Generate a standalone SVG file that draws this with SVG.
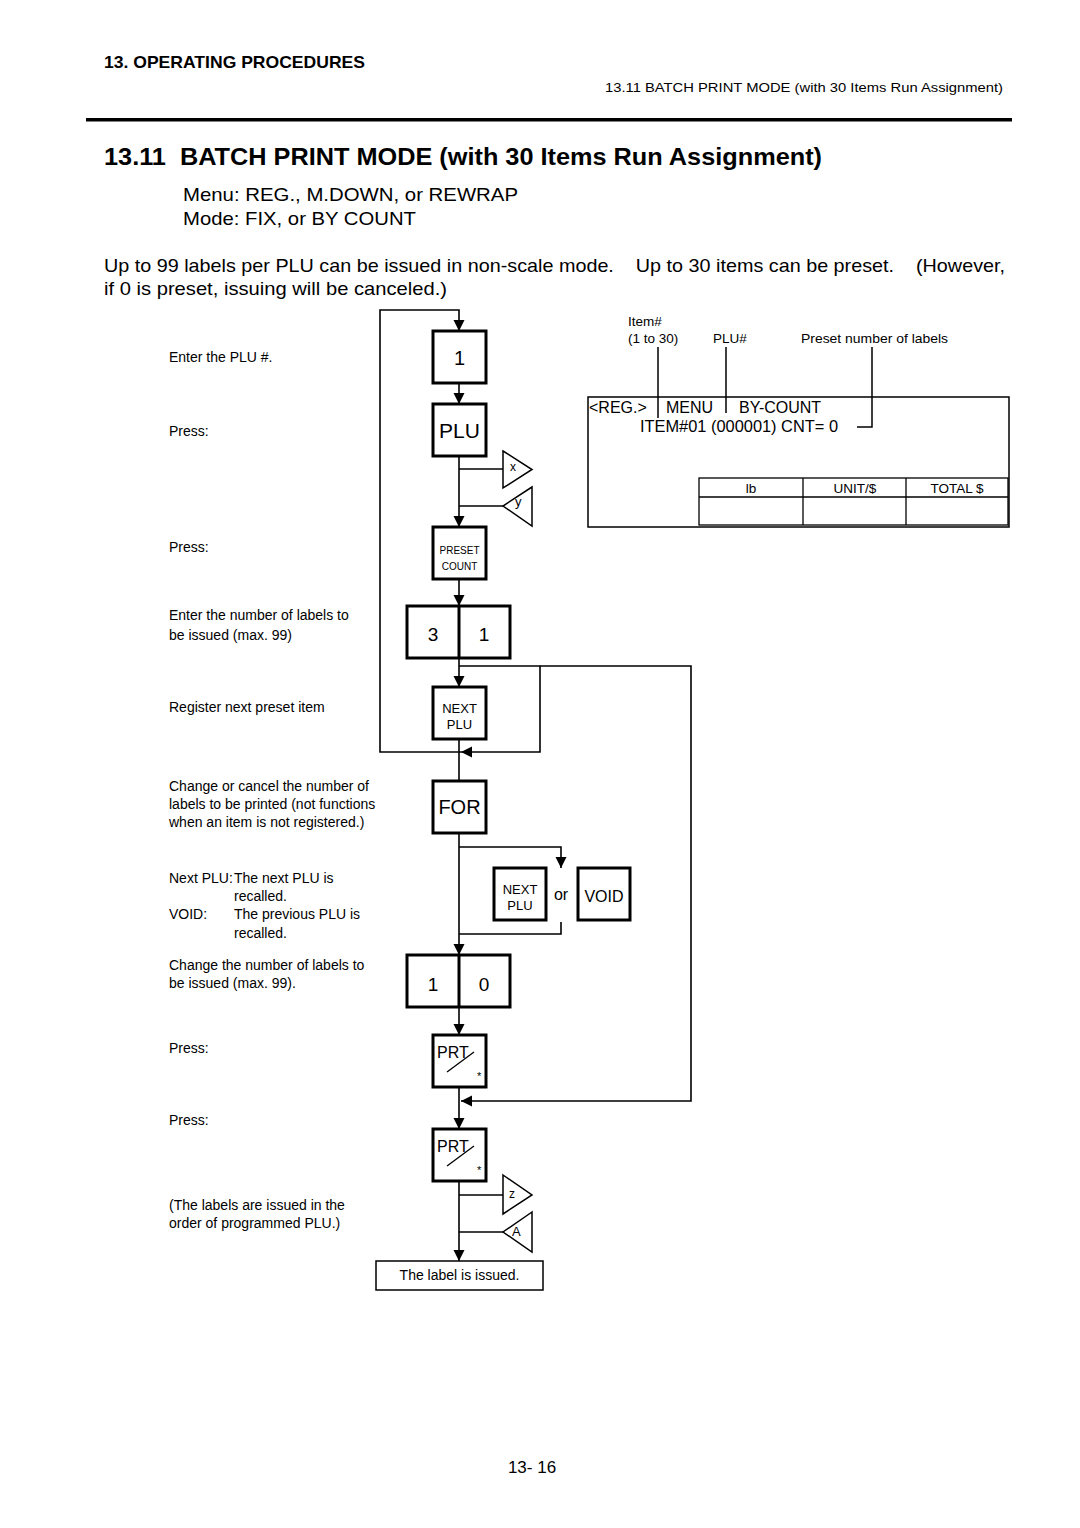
<svg xmlns="http://www.w3.org/2000/svg" width="1080" height="1528" viewBox="0 0 1080 1528">
<style>
text{font-family:"Liberation Sans",Arial,sans-serif;fill:#000}
.key{fill:#fff;stroke:#000;stroke-width:3}
.thin{fill:#fff;stroke:#000;stroke-width:1.5}
.conn{fill:none;stroke:#000;stroke-width:1.6}
.note{font-size:14px}
.kc{text-anchor:middle}
</style>
<defs>
<marker id="ah" markerUnits="userSpaceOnUse" markerWidth="12" markerHeight="12" refX="11" refY="6" orient="auto">
<path d="M0,0.5 L11,6 L0,11.5 z" fill="#000"/>
</marker>
</defs>
<rect width="1080" height="1528" fill="#fff"/>

<g id="header">
<text x="104" y="68" font-size="17" font-weight="bold" textLength="261" lengthAdjust="spacingAndGlyphs">13. OPERATING PROCEDURES</text>
<text x="605" y="92" font-size="13" textLength="398" lengthAdjust="spacingAndGlyphs">13.11 BATCH PRINT MODE (with 30 Items Run Assignment)</text>
<rect x="86" y="118" width="926" height="3.5" fill="#000"/>
<text x="104" y="165" font-size="24" font-weight="bold" textLength="718" lengthAdjust="spacingAndGlyphs" xml:space="preserve">13.11  BATCH PRINT MODE (with 30 Items Run Assignment)</text>
<text x="183" y="201" font-size="19" textLength="335" lengthAdjust="spacingAndGlyphs">Menu: REG., M.DOWN, or REWRAP</text>
<text x="183" y="225" font-size="19" textLength="233" lengthAdjust="spacingAndGlyphs">Mode: FIX, or BY COUNT</text>
<text x="104" y="272" font-size="19" textLength="901" lengthAdjust="spacingAndGlyphs" xml:space="preserve">Up to 99 labels per PLU can be issued in non-scale mode.    Up to 30 items can be preset.    (However,</text>
<text x="104" y="295" font-size="19" textLength="343" lengthAdjust="spacingAndGlyphs">if 0 is preset, issuing will be canceled.)</text>
</g>

<g id="notes" class="note">
<text x="169" y="362">Enter the PLU #.</text>
<text x="169" y="436">Press:</text>
<text x="169" y="552">Press:</text>
<text x="169" y="620">Enter the number of labels to</text>
<text x="169" y="640">be issued (max. 99)</text>
<text x="169" y="712">Register next preset item</text>
<text x="169" y="791">Change or cancel the number of</text>
<text x="169" y="809">labels to be printed (not functions</text>
<text x="169" y="827">when an item is not registered.)</text>
<text x="169" y="883">Next PLU:</text>
<text x="234" y="883">The next PLU is</text>
<text x="234" y="901">recalled.</text>
<text x="169" y="919">VOID:</text>
<text x="234" y="919">The previous PLU is</text>
<text x="234" y="938">recalled.</text>
<text x="169" y="970">Change the number of labels to</text>
<text x="169" y="988">be issued (max. 99).</text>
<text x="169" y="1053">Press:</text>
<text x="169" y="1125">Press:</text>
<text x="169" y="1210">(The labels are issued in the</text>
<text x="169" y="1228">order of programmed PLU.)</text>
</g>

<g id="connectors">
<path class="conn" d="M459,666 H540 V752 H461" marker-end="url(#ah)"/>
<path class="conn" d="M461,752 H380 V310 H459 V331" marker-end="url(#ah)"/>
<path class="conn" d="M459,383 V404" marker-end="url(#ah)"/>
<path class="conn" d="M459,456 V527" marker-end="url(#ah)"/>
<path class="conn" d="M459,469 H503"/>
<path class="conn" d="M459,506 H503"/>
<path class="conn" d="M459,579 V606" marker-end="url(#ah)"/>
<path class="conn" d="M459,658 V687" marker-end="url(#ah)"/>
<path class="conn" d="M459,739 V781"/>
<path class="conn" d="M459,833 V955" marker-end="url(#ah)"/>
<path class="conn" d="M459,847 H561 V868" marker-end="url(#ah)"/>
<path class="conn" d="M561,922 V934 H459"/>
<path class="conn" d="M540,666 H691 V1101 H461" marker-end="url(#ah)"/>
<path class="conn" d="M459,1007 V1035" marker-end="url(#ah)"/>
<path class="conn" d="M459,1087 V1129" marker-end="url(#ah)"/>
<path class="conn" d="M459,1195 H503"/>
<path class="conn" d="M459,1232 H503"/>
<path class="conn" d="M459,1181 V1261" marker-end="url(#ah)"/>
</g>

<g id="key-1">
<rect class="key" x="433" y="331" width="53" height="52"/>
<text x="459.5" y="365" font-size="20" class="kc">1</text>
</g>
<g id="key-plu">
<rect class="key" x="433" y="404" width="53" height="52"/>
<text x="459.5" y="438" font-size="21" class="kc">PLU</text>
</g>
<g id="conn-x">
<polygon class="thin" points="503,451 532,469.5 503,488"/>
<text x="510" y="471" font-size="12">x</text>
</g>
<g id="conn-y">
<polygon class="thin" points="532,487 503,506 532,526"/>
<text x="515" y="506" font-size="13">y</text>
</g>
<g id="key-preset-count">
<rect class="key" x="433" y="527" width="53" height="52"/>
<text x="459.5" y="554" font-size="10" class="kc">PRESET</text>
<text x="459.5" y="570" font-size="10" class="kc">COUNT</text>
</g>
<g id="key-31">
<rect class="key" x="407" y="606" width="103" height="52"/>
<line x1="459" y1="606" x2="459" y2="658" stroke="#000" stroke-width="3"/>
<text x="433" y="641" font-size="19" class="kc">3</text>
<text x="484" y="641" font-size="19" class="kc">1</text>
</g>
<g id="key-next-plu">
<rect class="key" x="433" y="687" width="53" height="52"/>
<text x="459.5" y="713" font-size="13" class="kc">NEXT</text>
<text x="459.5" y="729" font-size="13" class="kc">PLU</text>
</g>
<g id="key-for">
<rect class="key" x="433" y="781" width="53" height="52"/>
<text x="459.5" y="814" font-size="20" class="kc">FOR</text>
</g>
<g id="key-next-plu-2">
<rect class="key" x="494" y="868" width="52" height="52"/>
<text x="520" y="894" font-size="13" class="kc">NEXT</text>
<text x="520" y="910" font-size="13" class="kc">PLU</text>
</g>
<g id="or-label">
<text x="561" y="900" font-size="16" class="kc">or</text>
</g>
<g id="key-void">
<rect class="key" x="578" y="868" width="52" height="52"/>
<text x="604" y="902" font-size="16" class="kc">VOID</text>
</g>
<g id="key-10">
<rect class="key" x="407" y="955" width="103" height="52"/>
<line x1="459" y1="955" x2="459" y2="1007" stroke="#000" stroke-width="3"/>
<text x="433" y="991" font-size="19" class="kc">1</text>
<text x="484" y="991" font-size="19" class="kc">0</text>
</g>
<g id="key-prt-1">
<rect class="key" x="433" y="1035" width="53" height="52"/>
<text x="437" y="1058" font-size="16">PRT</text>
<line x1="447" y1="1072" x2="474" y2="1052" stroke="#000" stroke-width="1.3"/>
<text x="477" y="1080" font-size="11">*</text>
</g>
<g id="key-prt-2">
<rect class="key" x="433" y="1129" width="53" height="52"/>
<text x="437" y="1152" font-size="16">PRT</text>
<line x1="447" y1="1166" x2="474" y2="1146" stroke="#000" stroke-width="1.3"/>
<text x="477" y="1174" font-size="11">*</text>
</g>
<g id="conn-z">
<polygon class="thin" points="503,1175 532,1195 503,1214"/>
<text x="509" y="1198" font-size="12">z</text>
</g>
<g id="conn-a">
<polygon class="thin" points="532,1212 503,1232 532,1252"/>
<text x="512" y="1236" font-size="13">A</text>
</g>
<g id="label-issued">
<rect class="thin" x="376" y="1261" width="167" height="29"/>
<text x="459.5" y="1280" font-size="14" class="kc">The label is issued.</text>
</g>

<g id="display">
<text x="628" y="326" font-size="13.5">Item#</text>
<text x="628" y="343" font-size="13.5">(1 to 30)</text>
<text x="713" y="343" font-size="13.5">PLU#</text>
<text x="801" y="343" font-size="13.5" textLength="147" lengthAdjust="spacingAndGlyphs">Preset number of labels</text>
<rect class="thin" x="588" y="397" width="421" height="130"/>
<line x1="658" y1="347" x2="658" y2="418" stroke="#000" stroke-width="1.5"/>
<line x1="726" y1="347" x2="726" y2="413" stroke="#000" stroke-width="1.5"/>
<path d="M872,347 V427 H857" fill="none" stroke="#000" stroke-width="1.5"/>
<text x="589" y="413" font-size="16">&lt;REG.&gt;</text>
<text x="666" y="413" font-size="16">MENU</text>
<text x="739" y="413" font-size="16">BY-COUNT</text>
<text x="640" y="432" font-size="16" textLength="198" lengthAdjust="spacingAndGlyphs">ITEM#01 (000001) CNT= 0</text>
<rect x="699" y="478" width="309" height="47" fill="none" stroke="#000" stroke-width="1.3"/>
<line x1="699" y1="497" x2="1008" y2="497" stroke="#000" stroke-width="1.3"/>
<line x1="803" y1="478" x2="803" y2="525" stroke="#000" stroke-width="1.3"/>
<line x1="906" y1="478" x2="906" y2="525" stroke="#000" stroke-width="1.3"/>
<text x="751" y="493" font-size="13.5" class="kc">lb</text>
<text x="855" y="493" font-size="13.5" class="kc">UNIT/$</text>
<text x="957" y="493" font-size="13.5" class="kc">TOTAL $</text>
</g>

<g id="footer">
<text x="532" y="1473" font-size="17" class="kc">13- 16</text>
</g>
</svg>
